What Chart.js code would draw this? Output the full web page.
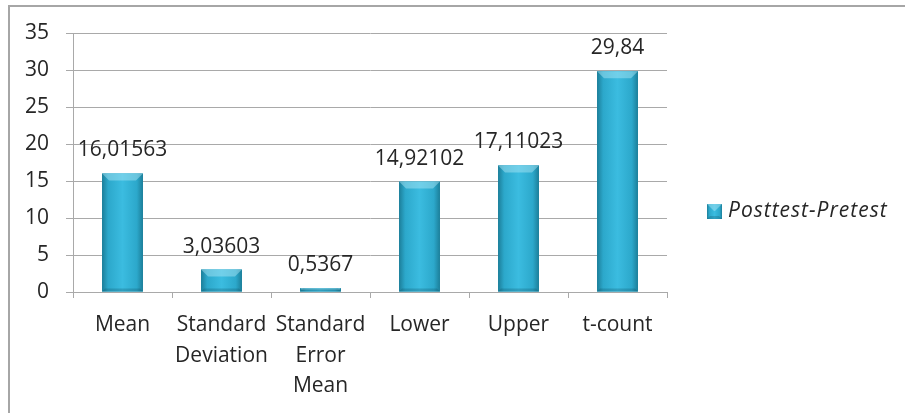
<!DOCTYPE html>
<html>
<head>
<meta charset="utf-8">
<script src="https://cdn.jsdelivr.net/npm/chart.js@4"></script>
<style>
  html, body { margin: 0; padding: 0; background: #fff; overflow: hidden; }
  #wrap { position: relative; width: 905px; height: 413px; }
  #frame { position: absolute; left: 8px; top: 5px; width: 1000px; height: 1000px;
           border: 2px solid #a6a6a6; box-sizing: border-box; }
  canvas { position: absolute; left: 0; top: 0; }
</style>
</head>
<body>
<div id="wrap">
  <div id="frame"></div>
  <canvas id="chart" width="905" height="413"></canvas>
</div>
<script>
const categories = ['Mean', ['Standard', 'Deviation'], ['Standard', 'Error', 'Mean'], 'Lower', 'Upper', 't-count'];
const values = [16.01563, 3.03603, 0.5367, 14.92102, 17.11023, 29.84];
const seriesName = 'Posttest-Pretest';
const yMin = 0, yMax = 35, yStep = 5;

const FONT = '"Open Sans", "Noto Sans", sans-serif';
const FONT_SIZE = 21;
const textColor = '#262626';
const gridColor = '#a9a9a9';

// decimal comma, as in the source table
const fmt = v => v.toString().replace('.', ',');

// paint each bar with a shaded cylinder look plus the bevelled top
function shadeBar(ctx, left, right, top, bottom) {
  const g = ctx.createLinearGradient(left, 0, right, 0);
  g.addColorStop(0, '#1c7e99');
  g.addColorStop(0.15, '#2ca8cb');
  g.addColorStop(0.5, '#3bbce0');
  g.addColorStop(0.85, '#2ca8cb');
  g.addColorStop(1, '#1c7e99');
  ctx.fillStyle = g;
  ctx.fillRect(left, top, right - left, bottom - top);

  const h = Math.min(7, (bottom - top) / 2);
  if (h < 1) return;
  // top bevel
  ctx.beginPath();
  ctx.moveTo(left, top);
  ctx.lineTo(right, top);
  ctx.lineTo(right - h, top + h);
  ctx.lineTo(left + h, top + h);
  ctx.closePath();
  ctx.fillStyle = 'rgba(180,232,246,0.45)';
  ctx.fill();
  // bottom shade
  ctx.beginPath();
  ctx.moveTo(left, bottom);
  ctx.lineTo(right, bottom);
  ctx.lineTo(right - 3, bottom - 3);
  ctx.lineTo(left + 3, bottom - 3);
  ctx.closePath();
  ctx.fillStyle = 'rgba(10,70,90,0.25)';
  ctx.fill();
}

const barLook = {
  id: 'barLook',
  afterDatasetsDraw(chart) {
    const ctx = chart.ctx;
    const meta = chart.getDatasetMeta(0);
    ctx.save();
    meta.data.forEach(bar => {
      const p = bar.getProps(['x', 'y', 'base', 'width'], true);
      shadeBar(ctx, p.x - p.width / 2, p.x + p.width / 2, p.y, p.base);
    });
    ctx.restore();
  }
};

// value labels above the bars
const valueLabels = {
  id: 'valueLabels',
  afterDatasetsDraw(chart) {
    const ctx = chart.ctx;
    const meta = chart.getDatasetMeta(0);
    ctx.save();
    ctx.font = FONT_SIZE + 'px ' + FONT;
    ctx.fillStyle = textColor;
    ctx.textAlign = 'center';
    ctx.textBaseline = 'alphabetic';
    meta.data.forEach((bar, i) => {
      ctx.fillText(fmt(values[i]), bar.x, bar.y - 17);
    });
    ctx.restore();
  }
};

// legend on the right
const sideLegend = {
  id: 'sideLegend',
  afterDraw(chart) {
    const ctx = chart.ctx;
    const x = 707, y = 204, s = 15;
    ctx.save();
    shadeBar(ctx, x, x + s, y, y + s);
    ctx.font = 'italic ' + FONT_SIZE + 'px ' + FONT;
    ctx.fillStyle = textColor;
    ctx.textAlign = 'left';
    ctx.textBaseline = 'middle';
    ctx.letterSpacing = '1px';
    ctx.fillText(chart.data.datasets[0].label, x + s + 6, y + s / 2);
    ctx.restore();
  }
};

new Chart(document.getElementById('chart'), {
  type: 'bar',
  data: {
    labels: categories,
    datasets: [{
      label: seriesName,
      data: values,
      backgroundColor: '#2ba3c6',
      borderWidth: 0,
      barPercentage: 0.413,
      categoryPercentage: 1
    }]
  },
  options: {
    responsive: false,
    animation: false,
    layout: { padding: { left: 0, top: 33, right: 238, bottom: 0 } },
    plugins: {
      legend: { display: false },
      tooltip: { enabled: false }
    },
    scales: {
      x: {
        afterFit: scale => { scale.height = 121; },
        grid: { drawOnChartArea: false, tickLength: 6, color: gridColor, offset: true },
        border: { color: gridColor },
        ticks: {
          autoSkip: false,
          maxRotation: 0,
          padding: 12,
          color: textColor,
          font: { family: FONT, size: FONT_SIZE, lineHeight: 1.45 }
        }
      },
      y: {
        min: yMin,
        max: yMax,
        afterFit: scale => { scale.width = 73; },
        grid: { color: gridColor, tickLength: 7 },
        border: { color: gridColor },
        ticks: {
          stepSize: yStep,
          padding: 17,
          color: textColor,
          font: { family: FONT, size: FONT_SIZE }
        }
      }
    }
  },
  plugins: [barLook, valueLabels, sideLegend]
});
</script>
</body>
</html>
